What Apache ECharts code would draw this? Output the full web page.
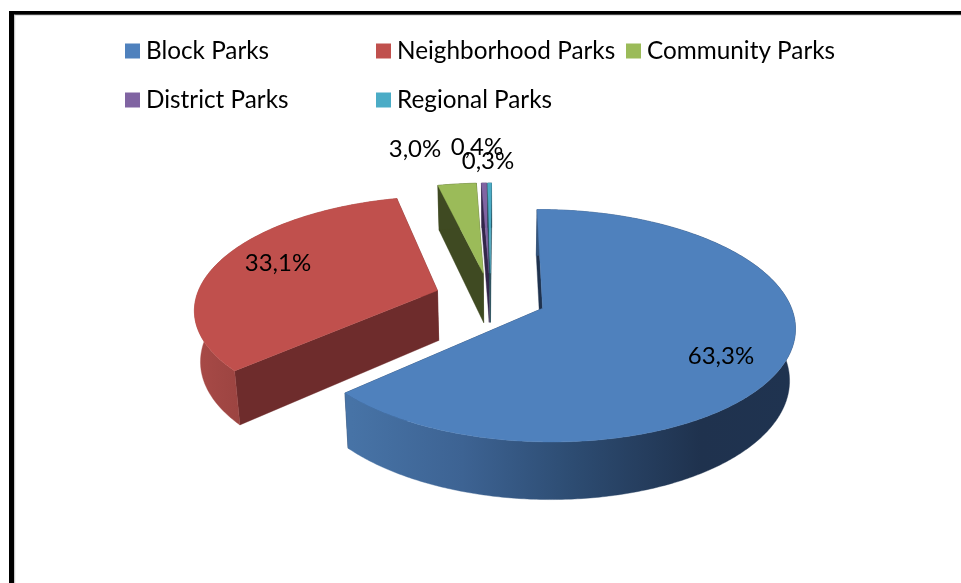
<!DOCTYPE html>
<html><head><meta charset="utf-8">
<style>html,body{margin:0;padding:0;background:#fff}#c{width:961px;height:583px}</style>
<script src="https://cdn.jsdelivr.net/npm/echarts@6/dist/echarts.min.js"></script>
</head><body><div id="c"></div>
<script>
const categories = ['Block Parks','Neighborhood Parks','Community Parks','District Parks','Regional Parks'];
const shares = [63.3,33.1,3.0,0.4,0.3];

// styling, by category
const topColors = ['#4F81BD','#C0504D','#9BBB59','#8064A2','#4BACC6'];
const innerColors = ['#1F324E','#6E2C2C','#3F4A22','#32264A','#1E4654'];
const labelAnchors = [[721,356],[278,263],[415,149],[477,147],[488,161]];
const legendAnchors = [[125,39],[376,39],[626,39],[125,88],[376,88]];
const FONT = 'Lato';

// projection of the tilted pie
const vx=500, vy=310, rx=247.5, ry=114, persp=0.15, perspX=-0.006;
const centre=[-0.039,0.108], explode=0.231;
function proj(a,b,low){
  const s=1/(1+persp*b+perspX*a);
  let X=vx+rx*a*s, Y=vy-ry*b*s;
  if(low){ const dY=50+(Y-290)*0.05; X=vx+(X-vx)*0.98; Y=Y+dY; }
  return [X,Y];
}
const total=shares.reduce((p,c)=>p+c,0);
function sliceShapes(i,value){
  let before=0; for(let k=0;k<i;k++) before+=shares[k];
  const a0=before/total*2*Math.PI, a1=(before+value)/total*2*Math.PI, mid=(a0+a1)/2;
  const ca=centre[0]+explode*Math.sin(mid), cb=centre[1]+explode*Math.cos(mid);
  const n=Math.max(3,Math.ceil((a1-a0)*90));
  const arc=[];
  for(let k=0;k<=n;k++){const t=a0+(a1-a0)*k/n;arc.push([ca+Math.sin(t),cb+Math.cos(t)]);}
  const tip=[ca,cb];
  const T=p=>proj(p[0],p[1],false), B=p=>proj(p[0],p[1],true);
  const wall=(pts)=>pts.map(T).concat(pts.slice().reverse().map(B));
  return {top:[tip].concat(arc).map(T), rim:wall(arc),
          start:wall([tip,arc[0]]), end:wall([tip,arc[arc.length-1]])};
}
function rimFill(i){
  if(i===0) return {type:'linear',x:352,y:0,x2:793,y2:0,global:true,colorStops:[
    {offset:0,color:'#4773A6'},{offset:0.25,color:'#3D6393'},{offset:0.5,color:'#2D4C72'},
    {offset:0.79,color:'#1F324E'},{offset:1,color:'#1F3350'}]};
  if(i===1) return {type:'linear',x:195,y:0,x2:240,y2:0,global:true,colorStops:[
    {offset:0,color:'#A84A47'},{offset:1,color:'#9C4441'}]};
  return innerColors[i];
}
function makeRender(i){
  return function(params,api){
    const v=api.value(0), s=sliceShapes(i,v);
    const poly=(pts,fill)=>({type:'polygon',shape:{points:pts},style:{fill:fill,stroke:fill,lineWidth:0.4}});
    return {type:'group',children:[
      poly(s.end,innerColors[i]),
      poly(s.start,innerColors[i]),
      poly(s.rim,rimFill(i)),
      poly(s.top,topColors[i]),
      {type:'text',z2:10,style:{text:v.toFixed(1).replace('.',',')+'%',x:labelAnchors[i][0],y:labelAnchors[i][1],
        align:'center',verticalAlign:'middle',fill:'#000',font:'24px '+FONT}}
    ]};
  };
}
const drawOrder=[3,4,2,1,0];
const chart=echarts.init(document.getElementById('c'),null,{renderer:'canvas',width:961,height:583});
chart.setOption({
  animation:false,
  backgroundColor:'#fff',
  legend:categories.map((c,i)=>({
    data:[c],left:legendAnchors[i][0],top:legendAnchors[i][1],padding:0,
    orient:'horizontal',icon:'rect',itemWidth:15,itemHeight:15,selectedMode:false,
    textStyle:{fontFamily:FONT,fontSize:24.3,color:'#000',padding:[0,0,0,1]}
  })),
  graphic:[
    {type:'rect',shape:{x:9,y:14,width:952,height:1.2},style:{fill:'#8c8c8c'},silent:true},
    {type:'rect',shape:{x:14,y:14,width:1.2,height:569},style:{fill:'#c8c8c8'},silent:true},
    {type:'rect',shape:{x:9,y:11,width:952,height:3.4},style:{fill:'#000'},silent:true},
    {type:'rect',shape:{x:9,y:11,width:5,height:572},style:{fill:'#000'},silent:true}
  ],
  series:drawOrder.map(i=>({
    type:'custom',name:categories[i],coordinateSystem:'none',silent:true,
    itemStyle:{color:topColors[i]},
    data:[[shares[i]]],renderItem:makeRender(i)
  }))
});
</script></body></html>
